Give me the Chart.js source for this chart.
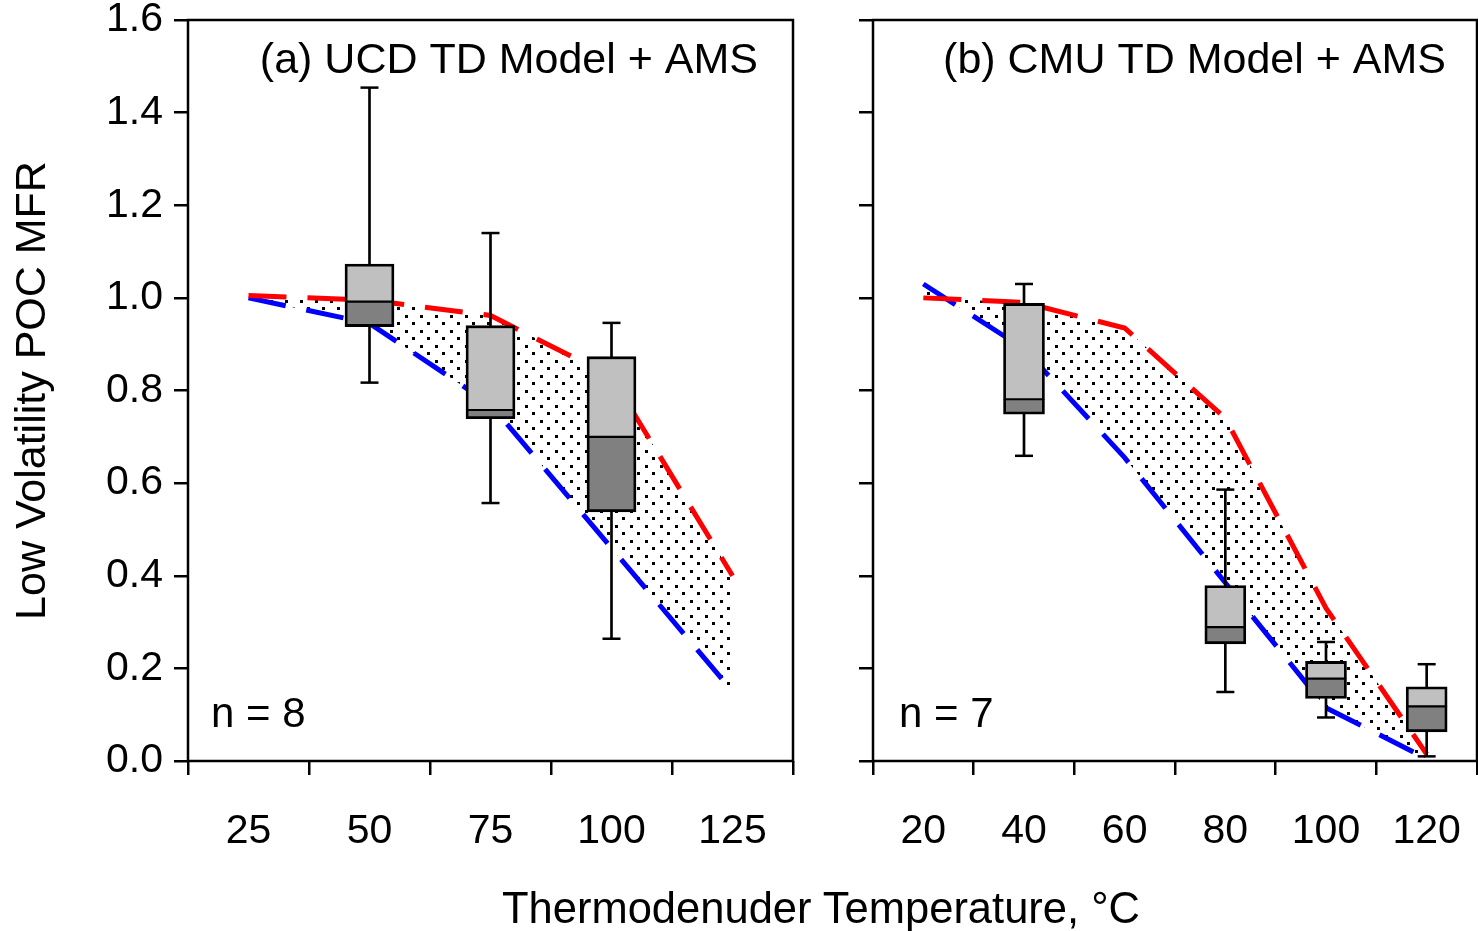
<!DOCTYPE html>
<html>
<head>
<meta charset="utf-8">
<title>Low Volatility POC MFR vs Thermodenuder Temperature</title>
<script src="https://cdn.jsdelivr.net/npm/chart.js@4/dist/chart.umd.min.js"></script>
<style>
  html, body { margin: 0; padding: 0; background: #fff; }
  #wrap { position: relative; width: 1478px; height: 931px; overflow: hidden; background: #fff; }
  canvas { position: absolute; top: 0; }
  #cA { left: 0; }
  #cB { left: 800px; }
  #xtitle {
    position: absolute; left: 821px; top: 883px; transform: translateX(-50%);
    font: 43.5px "Liberation Sans", Arial, sans-serif; line-height: 50px;
    white-space: nowrap; color: #000;
  }
</style>
</head>
<body>
<div id="wrap">
  <canvas id="cA" width="800" height="931"></canvas>
  <canvas id="cB" width="678" height="931"></canvas>
  <div id="xtitle">Thermodenuder Temperature, °C</div>
</div>
<script>
const FONT = '"Liberation Sans", Arial, sans-serif';

// ---- shared y axis ----
const yTickValues = [0, 0.2, 0.4, 0.6, 0.8, 1.0, 1.2, 1.4, 1.6];
const yTickLabels = ['0.0', '0.2', '0.4', '0.6', '0.8', '1.0', '1.2', '1.4', '1.6'];
const yTitle = 'Low Volatility POC MFR';

// ---- panel (a): UCD thermodenuder model ----
const titleA = '(a) UCD TD Model + AMS';
const countA = 'n = 8';
const xTickMarksA = [12.5, 37.5, 62.5, 87.5, 112.5, 137.5];
const xLabelValuesA = [25, 50, 75, 100, 125];
const xLabelsA = ['25', '50', '75', '100', '125'];
const modelTempsA = [25, 50, 75, 100, 125];
const upperA = [1.005, 0.995, 0.962, 0.83, 0.40];   // red dashed model bound
const lowerA = [1.0, 0.945, 0.77, 0.46, 0.15];      // blue dashed model bound
const boxTempsA = [50, 75, 100];
const minA = [0.817, 0.557, 0.264];
const q1A  = [0.938, 0.739, 0.538];
const medA = [0.992, 0.758, 0.700];
const q3A  = [1.073, 0.940, 0.873];
const maxA = [1.454, 1.140, 0.946];

// ---- panel (b): CMU thermodenuder model ----
const titleB = '(b) CMU TD Model + AMS';
const countB = 'n = 7';
const xTickMarksB = [10, 30, 50, 70, 90, 110, 130];
const xLabelValuesB = [20, 40, 60, 80, 100, 120];
const xLabelsB = ['20', '40', '60', '80', '100', '120'];
const modelTempsB = [20, 40, 60, 80, 100, 120];
const upperB = [1.0, 0.99, 0.935, 0.74, 0.33, 0.015];
const lowerB = [1.03, 0.89, 0.655, 0.385, 0.115, 0.005];
const boxTempsB = [40, 80, 100, 120];
const minB = [0.659, 0.149, 0.094, 0.010];
const q1B  = [0.749, 0.253, 0.135, 0.063];
const medB = [0.781, 0.289, 0.178, 0.118];
const q3B  = [0.988, 0.379, 0.215, 0.160];
const maxB = [1.030, 0.586, 0.257, 0.209];

// stippled fill between the two model bounds
function makeDots() {
  const c = document.createElement('canvas');
  c.width = 15; c.height = 15;
  const g = c.getContext('2d');
  g.fillStyle = '#000';
  g.fillRect(0, 0, 3, 3);
  g.fillRect(7, 7, 3, 3);
  return g.createPattern(c, 'repeat');
}

const points = (xs, ys) => xs.map((x, i) => ({ x: x, y: ys[i] }));
const ranges = (xs, lo, hi) => xs.map((x, i) => ({ x: x, y: [lo[i], hi[i]] }));

// frame, panel title and sample count
const panelDecor = {
  id: 'panelDecor',
  afterDatasetsDraw(chart, args, o) {
    const { ctx, chartArea: a } = chart;
    ctx.save();
    ctx.strokeStyle = '#000';
    ctx.lineWidth = 2.5;
    ctx.strokeRect(a.left, a.top, a.right - a.left, a.bottom - a.top);
    ctx.fillStyle = '#000';
    ctx.textBaseline = 'middle';
    ctx.font = '43px ' + FONT;
    ctx.textAlign = 'right';
    ctx.fillText(o.title, a.right - o.titleInset, 61);
    ctx.font = '42px ' + FONT;
    ctx.textAlign = 'left';
    ctx.fillText(o.count, a.left + o.countInset, 715);
    ctx.restore();
  }
};

function zeroPad(s) {
  s.paddingTop = 0; s.paddingBottom = 0; s.paddingLeft = 0; s.paddingRight = 0;
}

function makePanel(id, p) {
  const xTicks = p.marks.concat(p.labelValues).sort((a, b) => a - b);
  const dots = makeDots();
  return new Chart(document.getElementById(id), {
    type: 'line',
    data: {
      datasets: [
        { type: 'line', data: points(p.temps, p.lower), borderColor: '#0000ff', borderWidth: 5,
          borderDash: [38, 21], borderCapStyle: 'butt', pointRadius: 0, tension: 0, fill: false, order: 6 },
        { type: 'line', data: points(p.temps, p.upper), borderColor: '#ff0000', borderWidth: 5,
          borderDash: [38, 21], borderCapStyle: 'butt', pointRadius: 0, tension: 0,
          fill: '-1', backgroundColor: dots, order: 5 },
        { type: 'bar', data: ranges(p.boxT, p.q3, p.max), backgroundColor: '#000', borderWidth: 0,
          barThickness: 2, grouped: false, order: 4 },
        { type: 'bar', data: ranges(p.boxT, p.min, p.q1), backgroundColor: '#000', borderWidth: 0,
          barThickness: 2, grouped: false, order: 4 },
        { type: 'scatter', data: points(p.boxT, p.max).concat(points(p.boxT, p.min)),
          pointStyle: 'line', pointRadius: 9, pointHoverRadius: 9, borderColor: '#000',
          backgroundColor: '#000', borderWidth: 2.5, order: 3 },
        { type: 'bar', data: ranges(p.boxT, p.med, p.q3), backgroundColor: '#c0c0c0', borderColor: '#000',
          borderWidth: { top: 2.8, left: 2.8, right: 2.8, bottom: 1.4 }, borderSkipped: false,
          barThickness: p.boxWidth, grouped: false, order: 2 },
        { type: 'bar', data: ranges(p.boxT, p.q1, p.med), backgroundColor: '#808080', borderColor: '#000',
          borderWidth: { top: 1.4, left: 2.8, right: 2.8, bottom: 2.8 }, borderSkipped: false,
          barThickness: p.boxWidth, grouped: false, order: 1 }
      ]
    },
    options: {
      responsive: false,
      animation: false,
      devicePixelRatio: 1,
      events: [],
      layout: { autoPadding: false, padding: { left: 0, top: 20, right: p.rightPad, bottom: 0 } },
      plugins: {
        legend: { display: false },
        tooltip: { enabled: false },
        filler: { drawTime: 'beforeDatasetsDraw' },
        panelDecor: { title: p.title, count: p.count, titleInset: p.titleInset, countInset: p.countInset }
      },
      scales: {
        x: {
          type: 'linear', min: p.marks[0], max: p.marks[p.marks.length - 1], offset: false,
          afterBuildTicks: s => { s.ticks = xTicks.map(v => ({ value: v })); },
          afterFit: s => { s.height = 170; zeroPad(s); },
          ticks: {
            autoSkip: false, maxRotation: 0, minRotation: 0, padding: 32, color: '#000',
            font: { family: FONT, size: 41 },
            callback: v => { const i = p.labelValues.indexOf(v); return i >= 0 ? p.labels[i] : ''; }
          },
          grid: {
            drawOnChartArea: false, drawTicks: true, tickLength: 14, tickWidth: 2.5, lineWidth: 2.5, offset: false,
            tickColor: c => (c.tick && p.labelValues.indexOf(c.tick.value) >= 0) ? 'rgba(0,0,0,0)' : '#000'
          },
          border: { display: false }
        },
        y: {
          type: 'linear', min: 0, max: 1.6,
          afterBuildTicks: s => { s.ticks = yTickValues.map(v => ({ value: v })); },
          afterFit: s => { s.width = p.yWidth; zeroPad(s); },
          ticks: {
            autoSkip: false, padding: 11, color: '#000',
            font: { family: FONT, size: 41 },
            callback: (v, i) => p.showYLabels ? yTickLabels[i] : ''
          },
          grid: { drawOnChartArea: false, drawTicks: true, tickLength: 14, tickWidth: 2.5, lineWidth: 2.5, tickColor: '#000' },
          border: { display: false },
          title: {
            display: p.showYLabels, text: yTitle, color: '#000',
            font: { family: FONT, size: 43 }, padding: { top: 7, bottom: 0 }
          }
        }
      }
    },
    plugins: [panelDecor]
  });
}

makePanel('cA', {
  title: titleA, count: countA, titleInset: 35, countInset: 23,
  marks: xTickMarksA, labelValues: xLabelValuesA, labels: xLabelsA,
  temps: modelTempsA, upper: upperA, lower: lowerA,
  boxT: boxTempsA, min: minA, q1: q1A, med: medA, q3: q3A, max: maxA,
  boxWidth: 49, yWidth: 188, rightPad: 7, showYLabels: true
});

makePanel('cB', {
  title: titleB, count: countB, titleInset: 31, countInset: 26,
  marks: xTickMarksB, labelValues: xLabelValuesB, labels: xLabelsB,
  temps: modelTempsB, upper: upperB, lower: lowerB,
  boxT: boxTempsB, min: minB, q1: q1B, med: medB, q3: q3B, max: maxB,
  boxWidth: 41, yWidth: 73, rightPad: 1, showYLabels: false
});
</script>
</body>
</html>
